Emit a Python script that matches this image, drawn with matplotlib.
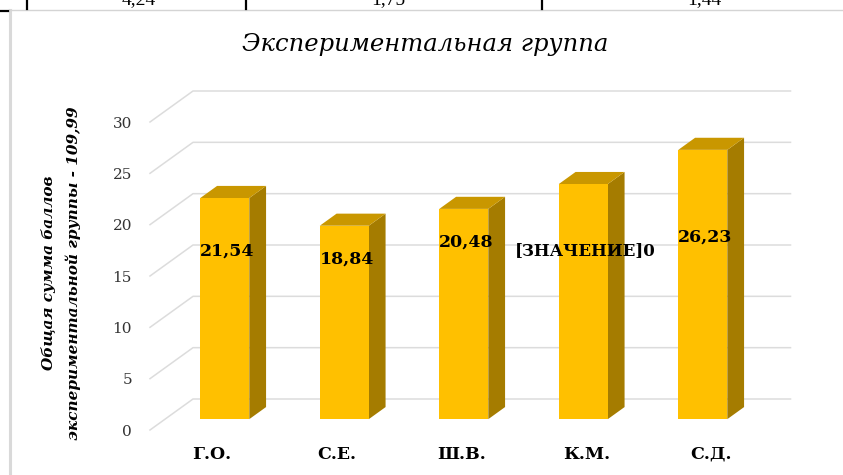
import matplotlib.pyplot as plt
from matplotlib.patches import Rectangle, Polygon

# --------------------
# Data
# --------------------
names = ["Г.О.", "С.Е.", "Ш.В.", "К.М.", "С.Д."]
scores = [21.54, 18.84, 20.48, 22.90, 26.23]
# Excel left a broken placeholder on the 4th bar
value_labels = ["21,54", "18,84", "20,48", "[ЗНАЧЕНИЕ]0", "26,23"]
y_ticks = [0, 5, 10, 15, 20, 25, 30]
table_cells = ["4,24", "1,75", "1,44"]   # clipped row of the table above

title = "Экспериментальная группа"
ylabel = "Общая сумма баллов\nэкспериментальной группы - 109,99"

# --------------------
# Layout (pixels of an 843x475 picture)
# --------------------
W, H = 843, 475
label_y = [17.4, 16.6, 18.3, 17.5, 18.8]     # where the value labels sit

DX = 43 / 119.5      # depth offset of the back wall, x units
DY = 31 / 10.267     # depth offset of the back wall, value units
bar_w = 0.41
d0, bd = 0.35, 0.39  # bar start depth and bar depth

front = "#FFC000"
top_c = "#C99700"
side_c = "#A57C00"
grid_c = "#dcdcdc"
serif = "DejaVu Serif"

fig = plt.figure(figsize=(W / 100, H / 100), dpi=100)

# decorations in pixel space
deco = fig.add_axes([0, 0, 1, 1])
deco.set_xlim(0, W)
deco.set_ylim(H, 0)
deco.axis("off")
deco.plot([10, 10], [10, H], color="#d9d9d9", lw=2.2)
deco.plot([9, W], [9.5, 9.5], color="#d4d4d4", lw=1)
deco.plot([0, 8], [11, 11], color="black", lw=1.6)
for xv in [27, 246, 542]:
    deco.plot([xv, xv], [0, 8.5], color="black", lw=1.6)
for xc, txt in zip([139, 388, 704], table_cells):
    deco.text(xc, 4, txt, ha="center", va="baseline", fontsize=14,
              family="Liberation Serif", color="black")

fig.text(425 / W, 1 - 45 / H, title, ha="center", va="center",
         fontsize=17.5, style="italic", family=serif, color="black")
fig.text(61 / W, 1 - 273 / H, ylabel, ha="center", va="center",
         rotation=90, fontsize=11, style="italic", weight="bold",
         family=serif, linespacing=1.7, color="black")

# main axes = front plane of the 3D chart
ax = fig.add_axes([150 / W, (H - 430) / H, 597.5 / W, 308 / H])
ax.set_xlim(0, 5)
ax.set_ylim(0, 30)
ax.patch.set_alpha(0)
for s in ax.spines.values():
    s.set_visible(False)
ax.set_xticks([])
ax.set_yticks(y_ticks)
ax.set_yticklabels([str(t) for t in y_ticks], family=serif, fontsize=11,
                   color="#333333")
ax.tick_params(axis="y", length=0, pad=13)

# gridlines: diagonal on the side wall, horizontal on the back wall
for t in y_ticks:
    ax.plot([0, DX, len(names) + DX], [t, t + DY, t + DY], color=grid_c,
            lw=1.1, clip_on=False, zorder=1)

for i, (v, lab) in enumerate(zip(scores, value_labels)):
    x0 = i + 0.5 - bar_w / 2 + d0 * DX
    y0 = d0 * DY
    ox, oy = bd * DX, bd * DY
    ax.add_patch(Polygon([(x0 + bar_w, y0), (x0 + bar_w + ox, y0 + oy),
                          (x0 + bar_w + ox, y0 + v + oy), (x0 + bar_w, y0 + v)],
                         closed=True, fc=side_c, ec="none", clip_on=False,
                         zorder=3))
    ax.add_patch(Polygon([(x0, y0 + v), (x0 + bar_w, y0 + v),
                          (x0 + bar_w + ox, y0 + v + oy), (x0 + ox, y0 + v + oy)],
                         closed=True, fc=top_c, ec="none", clip_on=False,
                         zorder=3))
    ax.add_patch(Rectangle((x0, y0), bar_w, v, fc=front, ec="none",
                           clip_on=False, zorder=4))
    fs = 12.5 if lab[0].isdigit() else 12
    ax.text(x0 + bar_w / 2 + 0.02, label_y[i], lab, ha="center", va="center",
            fontsize=fs, weight="bold", family=serif, color="black",
            zorder=6, clip_on=False)

for i, n in enumerate(names):
    ax.text(0.52 + 1.044 * i, -2.34, n, ha="center", va="center",
            fontsize=12.5, weight="bold", family=serif, color="black",
            clip_on=False)

fig.savefig("out.png", dpi=100)
